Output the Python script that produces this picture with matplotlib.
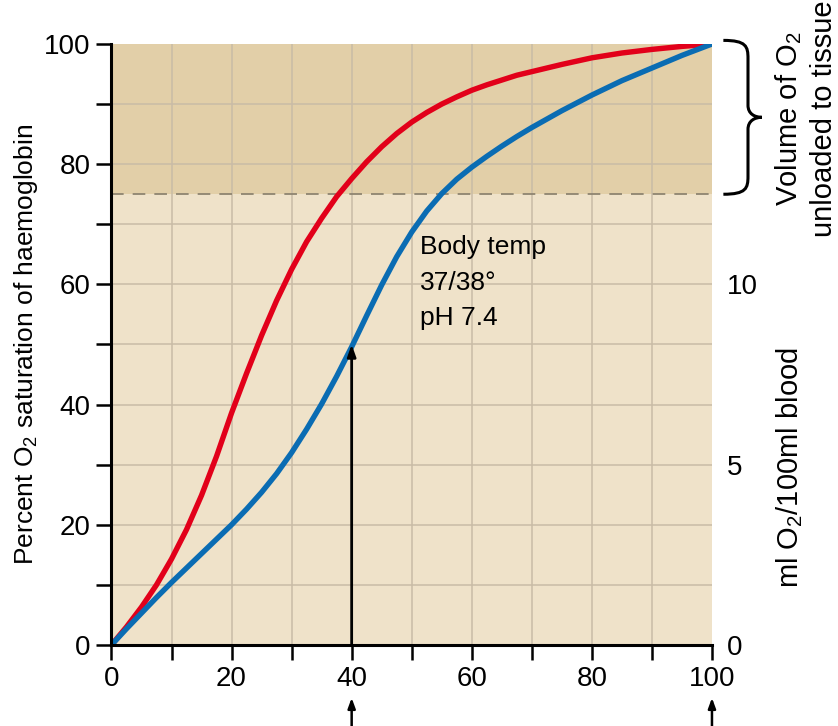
import matplotlib
matplotlib.use("Agg")
import matplotlib.pyplot as plt
from matplotlib.path import Path
from matplotlib.patches import PathPatch

BASE = "Liberation Sans"
plt.rcParams["font.family"] = [BASE, "DejaVu Sans"]
plt.rcParams["mathtext.fontset"] = "custom"
plt.rcParams["mathtext.rm"] = BASE
plt.rcParams["mathtext.it"] = BASE
plt.rcParams["mathtext.bf"] = BASE

# Partial pressure of O2 (0-100 scale)
po2 = [0, 2.5, 5, 7.5, 10, 12.5, 15, 17.5, 20, 22.5, 25, 27.5, 30, 32.5, 35,
       37.5, 40, 42.5, 45, 47.5, 50, 52.5, 55, 57.5, 60, 62.5, 65, 67.5, 70,
       75, 80, 85, 90, 95, 100]
# Percent saturation of haemoglobin
sat_red = [0, 3.0, 6.3, 10.0, 14.3, 19.2, 24.9, 31.4, 38.6, 45.2, 51.5, 57.3,
           62.5, 67.1, 71.0, 74.6, 77.6, 80.4, 82.9, 85.1, 87.0, 88.6, 90.0,
           91.2, 92.3, 93.2, 94.0, 94.8, 95.4, 96.6, 97.7, 98.5, 99.1, 99.6,
           100]
sat_blue = [0, 2.7, 5.3, 7.9, 10.4, 12.8, 15.2, 17.6, 20.0, 22.6, 25.4, 28.5,
            32.0, 35.9, 40.1, 44.7, 49.6, 54.8, 59.9, 64.6, 68.7, 72.2, 75.1,
            77.5, 79.5, 81.3, 83.0, 84.6, 86.1, 88.9, 91.5, 93.9, 96.0, 98.1,
            100]

unload_level = 75
arrow_x = 40
arrow_top = 50
bottom_arrows = [40, 100]
x_ticks = [0, 20, 40, 60, 80, 100]
y_ticks = [0, 20, 40, 60, 80, 100]
right_ticks = [0, 5, 10]
right_max = 100 / 6

RED = "#E2001A"
BLUE = "#0A6CB3"
LOWER = "#EFE2C9"
UPPER = "#E2CFA8"
GRID = "#C9BCA6"

fig = plt.figure(figsize=(8.38, 7.26), dpi=100)
ax = fig.add_axes([0.133, 0.1116, 0.7166, 0.8278])
ax.set_xlim(0, 100)
ax.set_ylim(0, 100)
ax.set_facecolor(LOWER)
ax.axhspan(unload_level, 100, color=UPPER, zorder=0, lw=0)

# grid every 10
for v in range(10, 100, 10):
    ax.axvline(v, color=GRID, lw=1.1, zorder=1)
    ax.axhline(v, color=GRID, lw=1.1, zorder=1)
ax.axhline(unload_level, color="#8E8470", lw=1.3, ls=(0, (7, 5)), zorder=2)

ax.plot(po2, sat_red, color=RED, lw=3.9, solid_capstyle="round",
        solid_joinstyle="round", zorder=4)
ax.plot(po2, sat_blue, color=BLUE, lw=3.9, solid_capstyle="round",
        solid_joinstyle="round", zorder=5)

# vertical arrow at 40
ax.annotate("", xy=(arrow_x, arrow_top), xytext=(arrow_x, 0),
            arrowprops=dict(arrowstyle="-|>,head_length=0.7,head_width=0.25",
                            color="black", lw=2.0, shrinkA=0, shrinkB=0),
            zorder=6)

# arrows below the axis
tr = ax.get_xaxis_transform()
for xa in bottom_arrows:
    ax.annotate("", xy=(xa, -0.088), xytext=(xa, -0.135), xycoords=tr,
                textcoords=tr,
                arrowprops=dict(arrowstyle="-|>,head_length=0.6,head_width=0.22",
                                color="black", lw=1.8, shrinkA=0, shrinkB=0),
                annotation_clip=False)

# spines and ticks
for s in ["top", "right"]:
    ax.spines[s].set_visible(False)
for s in ["left", "bottom"]:
    ax.spines[s].set_linewidth(2.2)
    ax.spines[s].set_zorder(7)
ax.set_xticks(x_ticks)
ax.set_yticks(y_ticks)
ax.set_xticks(range(10, 100, 20), minor=True)
ax.set_yticks(range(10, 100, 20), minor=True)
ax.tick_params(which="both", direction="out", length=11, width=1.8,
               color="black")
ax.tick_params(axis="both", which="major", labelsize=20, pad=4)
ax.tick_params(axis="x", which="major", pad=4)
ax.set_ylabel("Percent O$_2$ saturation of haemoglobin", fontsize=19,
              labelpad=3)

# right-hand scale: ml O2 per 100 ml blood
ax2 = ax.twinx()
ax2.set_ylim(0, right_max)
ax2.set_yticks(right_ticks)
ax2.tick_params(axis="y", length=0, labelsize=20, pad=11)
for s in ax2.spines.values():
    s.set_visible(False)

ax.text(113, 29.5, "ml O$_2$/100ml blood", rotation=90, fontsize=21,
        ha="center", va="center", clip_on=False)
ax.text(115.6, 87.5, "Volume of O$_2$\nunloaded to tissue", rotation=90,
        fontsize=21, ha="center", va="center", linespacing=1.25,
        multialignment="center", clip_on=False)

# brace marking the unloaded volume
x0, x1, xm = 101.9, 106.0, 108.3
yt, yb, ymid = 100.6, 75.0, 87.8
verts = [
    (x0, yt), (x1 - 0.3, yt), (x1, yt - 1.0), (x1, yt - 3.0),
    (x1, ymid + 2.0),
    (x1, ymid + 0.6), (xm - 1.2, ymid), (xm, ymid),
    (xm - 1.2, ymid), (x1, ymid - 0.6), (x1, ymid - 2.0),
    (x1, yb + 3.0),
    (x1, yb + 1.0), (x1 - 0.3, yb), (x0, yb),
]
codes = [Path.MOVETO, Path.CURVE4, Path.CURVE4, Path.CURVE4,
         Path.LINETO,
         Path.CURVE4, Path.CURVE4, Path.CURVE4,
         Path.CURVE4, Path.CURVE4, Path.CURVE4,
         Path.LINETO,
         Path.CURVE4, Path.CURVE4, Path.CURVE4]
ax.add_patch(PathPatch(Path(verts, codes), fill=False, lw=2.2,
                       edgecolor="black", clip_on=False, zorder=8))

ax.text(51.4, 68.2, "Body temp\n37/38°\npH 7.4", fontsize=19, ha="left",
        va="top", linespacing=1.6, zorder=6)

fig.savefig("out.png", dpi=100)
